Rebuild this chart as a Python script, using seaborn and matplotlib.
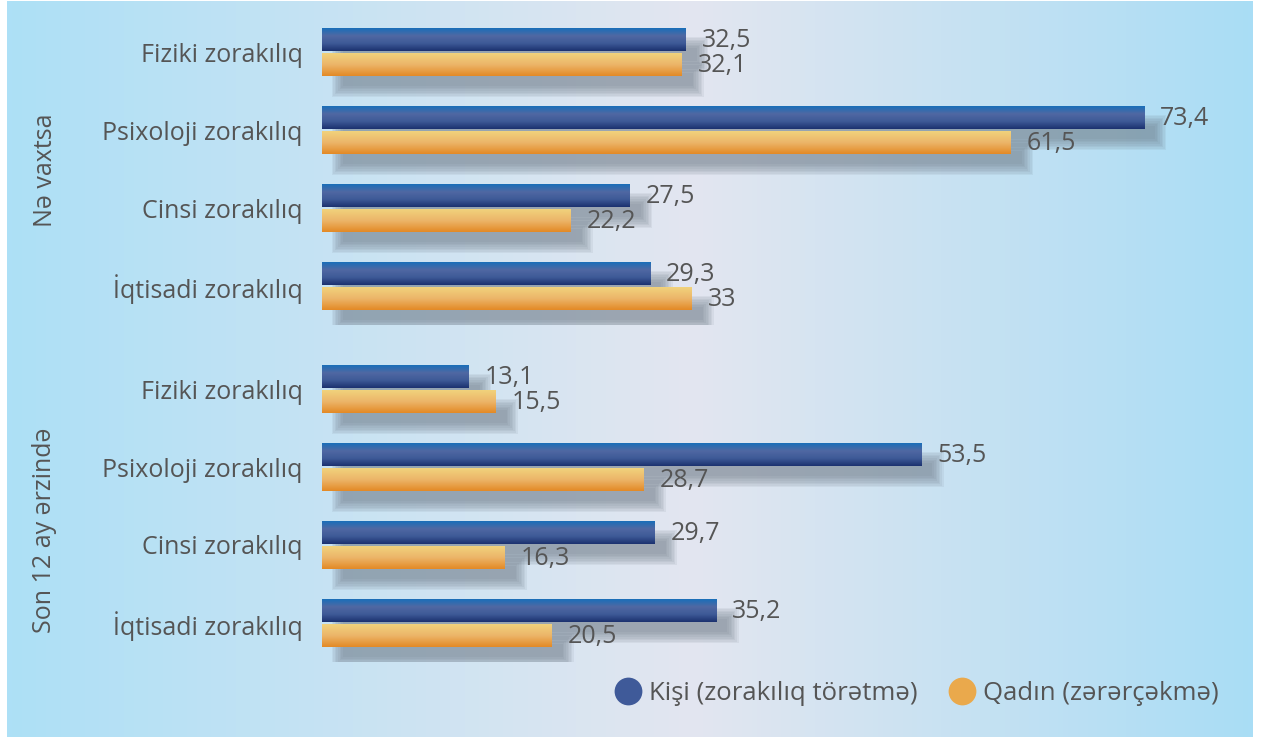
import numpy as np
import pandas as pd
import seaborn as sns
import matplotlib.pyplot as plt
from matplotlib.colors import LinearSegmentedColormap
from matplotlib.patches import Rectangle
from matplotlib.lines import Line2D

# data
categories = ["Fiziki zorakılıq", "Psixoloji zorakılıq", "Cinsi zorakılıq", "İqtisadi zorakılıq"]
periods = ["Nə vaxtsa", "Son 12 ay ərzində"]
series = ["Kişi (zorakılıq törətmə)", "Qadın (zərərçəkmə)"]
kisi_ever = [32.5, 73.4, 27.5, 29.3]
qadin_ever = [32.1, 61.5, 22.2, 33]
kisi_12m = [13.1, 53.5, 29.7, 35.2]
qadin_12m = [15.5, 28.7, 16.3, 20.5]

rows = []
for period, k_vals, q_vals in [(periods[0], kisi_ever, qadin_ever), (periods[1], kisi_12m, qadin_12m)]:
    for cat, k, q in zip(categories, k_vals, q_vals):
        rows.append({"period": period, "category": cat, "group": series[0], "value": k})
        rows.append({"period": period, "category": cat, "group": series[1], "value": q})
df = pd.DataFrame(rows)

sns.set_theme(style="white")
plt.rcParams['font.family'] = ['Open Sans', 'DejaVu Sans']
TEXT = '#555555'
FS = 18

W, H = 1262, 737
fig = plt.figure(figsize=(W / 100, H / 100), dpi=100)
fig.patch.set_facecolor('white')

# background gradient panel
bg = fig.add_axes([7 / W, 0, (1253 - 7) / W, 1 - 1 / H])
bg_cmap = LinearSegmentedColormap.from_list('bg', [(0, '#ade0f6'), (0.55, '#e3e6f0'), (1, '#a9ddf5')])
bg.imshow(np.linspace(0, 1, 256).reshape(1, -1), cmap=bg_cmap, aspect='auto', extent=(0, 1, 0, 1))
bg.set_axis_off()

blue_cmap = LinearSegmentedColormap.from_list('b', ['#1a6fb9', '#5068a3', '#3e5a97', '#1c3270'])
orange_cmap = LinearSegmentedColormap.from_list('o', ['#f1d27c', '#ecb569', '#e38a26'])
palette = {series[0]: '#3f5a99', series[1]: '#eaa94c'}

# pixel layout of the two panels
x_left = 322
px_per_unit = 11.2
xmax = (1253 - x_left) / px_per_unit
panels = [(13, 325), (350, 662)]

for period, (top_px, bot_px) in zip(periods, panels):
    ax = fig.add_axes([x_left / W, 1 - bot_px / H, (1253 - x_left) / W, (bot_px - top_px) / H])
    ax.patch.set_alpha(0)
    sub = df[df['period'] == period]
    sns.barplot(data=sub, y='category', x='value', hue='group', orient='h', ax=ax,
                palette=palette, width=0.64, gap=0.08, legend=False, order=categories,
                hue_order=series, saturation=1, linewidth=0, edgecolor='none', zorder=3)
    ax.set_xlim(0, xmax)
    ylim = ax.get_ylim()

    px_per_cat = (bot_px - top_px) / 4
    dx = 16 / px_per_unit
    dy = 15 / px_per_cat
    bars = list(ax.patches)
    for i, p in enumerate(bars):
        x0, y0 = p.get_x(), p.get_y()
        w, h = p.get_width(), p.get_height()
        # soft shadow
        for k in range(8):
            g = (k - 3) * 1.6
            ax.add_patch(Rectangle((x0 + dx - g / px_per_unit, y0 + dy - g / px_per_cat),
                                   w + 2 * g / px_per_unit, h + 2 * g / px_per_cat,
                                   facecolor='#66727f', edgecolor='none', alpha=0.09, zorder=1))
        # gradient fill
        cmap = blue_cmap if i < len(bars) // 2 else orange_cmap
        img = ax.imshow(np.linspace(0, 1, 64).reshape(-1, 1), cmap=cmap, aspect='auto',
                        extent=(x0, x0 + w, y0 + h, y0), origin='upper', zorder=4)
        img.set_clip_path(p)
        # value label
        ax.text(x0 + w + 16 / px_per_unit, y0 + h * 0.56, f"{w:g}".replace('.', ','),
                va='center', ha='left', fontsize=FS, color=TEXT, zorder=5)

    ax.set_xlim(0, xmax)
    ax.set_ylim(ylim)
    ax.set_xlabel('')
    ax.set_ylabel('')
    ax.set_xticks([])
    ax.tick_params(axis='y', length=0, pad=14, labelsize=FS, labelcolor=TEXT)
    sns.despine(ax=ax, left=True, bottom=True)

# group labels
fig.text(45 / W, 1 - 170 / H, periods[0], rotation=90, ha='center', va='center', fontsize=FS, color=TEXT)
fig.text(45 / W, 1 - 530 / H, periods[1], rotation=90, ha='center', va='center', fontsize=FS, color=TEXT)

handles = [Line2D([], [], marker='o', linestyle='none', markersize=20, markerfacecolor=palette[s],
                  markeredgecolor='none') for s in series]
fig.legend(handles, series, loc='center right', bbox_to_anchor=(1229 / W, 1 - 693 / H), ncol=2,
           frameon=False, prop={'size': 18.5}, labelcolor=TEXT, handlelength=1.1,
           handletextpad=0.25, columnspacing=1.2, borderaxespad=0)

fig.savefig('out.png', dpi=100)
